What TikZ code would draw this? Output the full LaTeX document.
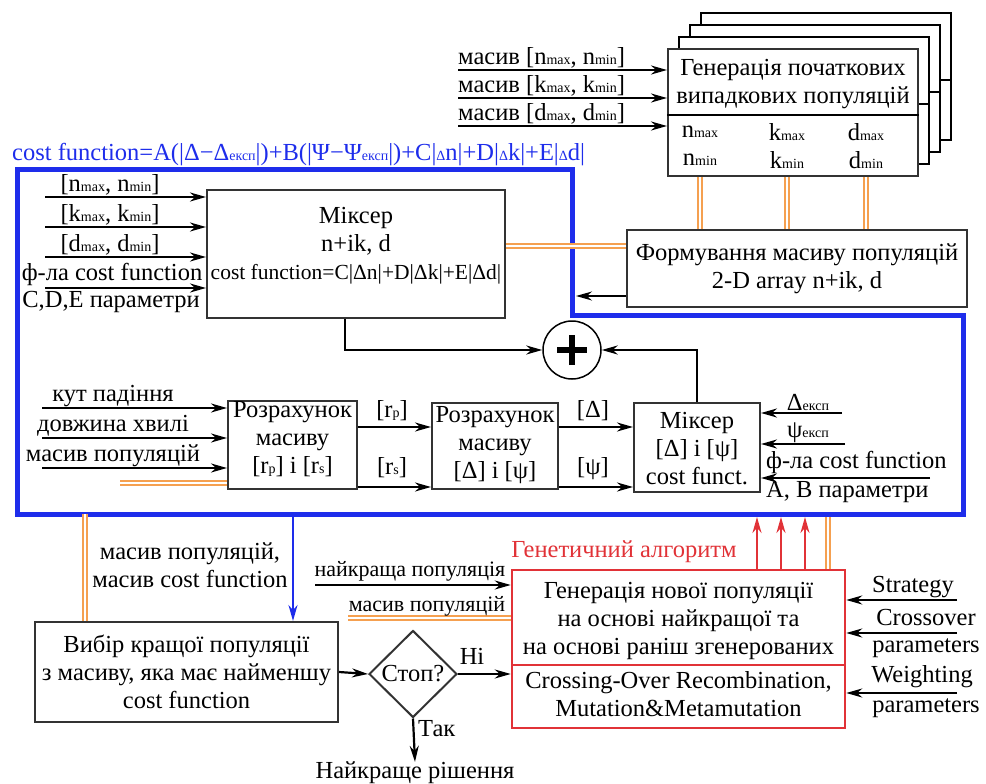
\documentclass[tikz,border=0pt]{standalone}
\usepackage{fontspec}
\setmainfont{Liberation Serif}
\usetikzlibrary{shapes.geometric,arrows.meta,positioning,calc}

\definecolor{frameblue}{RGB}{30,45,235}
\definecolor{gared}{RGB}{225,50,55}
\definecolor{popor}{RGB}{245,160,80}
\newcommand{\ix}[1]{{\fontsize{14}{14}\selectfont #1}}

\tikzset{
  box/.style={draw=black!80, line width=2pt, fill=white, align=center, inner sep=0pt},
  arr/.style={-{Stealth[length=16pt,width=9pt]}, line width=2.2pt},
  popline/.style={draw=popor, double=white, double distance=2.2pt, line width=1.8pt},
  lbl/.style={inner sep=0pt, align=center},
}

\begin{document}
\begin{tikzpicture}[x=1pt, y=-1pt, font=\fontsize{24.5}{28}\selectfont]
\useasboundingbox (0,0) rectangle (986,784);

% stack of initial population boxes
\foreach \i in {3,2,1} {
  \draw[line width=2pt, fill=white, shift={(11*\i,-12*\i)}] (668,49) rectangle (918,176);
  \draw[line width=2pt, shift={(11*\i,-12*\i)}] (668,116) -- (918,116);
}
\node[box, minimum width=250pt, minimum height=127pt] (gen) at (793,112.5) {};
\draw[line width=2pt] ([yshift=-67pt]gen.north west) -- ([yshift=-67pt]gen.north east);
\node[lbl] (gentxt) at (793,84) {Генерація початкових\\випадкових популяцій};
\node[lbl] (nrange) at (700,146) {n\ix{max}\\n\ix{min}};
\node[lbl] (krange) at (787,146) {k\ix{max}\\k\ix{min}};
\node[lbl] (drange) at (866,146) {d\ix{max}\\d\ix{min}};

\foreach \y/\t [count=\k] in {70/n, 98/k, 126/d} {
  \coordinate (gin\k) at (458,\y);
  \draw[arr] (gin\k) -- (gin\k -| gen.west);
  \node[lbl, anchor=south west] (ginlbl\k) at ([yshift=2pt]gin\k) {масив [\t\ix{max}, \t\ix{min}]};
}

% blue frame
\node[lbl, anchor=west, text=frameblue] (cfall) at (12,155)
  {cost function=A(|Δ−Δ\ix{експ}|)+B(|Ψ−Ψ\ix{експ}|)+C|\ix{Δ}n|+D|\ix{Δ}k|+E|\ix{Δ}d|};
\draw[frameblue, line width=5pt] (17,169) -- (572,169) -- (572,315) -- (963,315) -- (963,514) -- (17,514) -- cycle;

% forming the population array
\node[box, minimum width=340pt, minimum height=77pt] (form) at (797,268.5) {Формування масиву популяцій\\2-D array n+ik, d};
\foreach \x in {700,787,866}
  \draw[popline] (gen.south -| \x,0) -- (form.north -| \x,0);

% top mixer
\node[box, minimum width=298pt, minimum height=128pt] (mix) at (356,254) {};
\node[lbl] (mixtxt) at (356,246) {Міксер\\n+ik, d\\{\fontsize{21.5}{28}\selectfont cost function=C|Δn|+D|Δk|+E|Δd|}};
\draw[popline] (form.west |- 0,246) -- (mix.east |- 0,246);
\draw[arr, line width=1.6pt] ([yshift=12pt]form.south west) -- ++(-50,0);

\foreach \y [count=\k] in {197,227,257,288} {
  \coordinate (min\k) at (45,\y);
  \draw[arr] (min\k) -- (min\k -| mix.west);
}
\node[lbl] (mlbl1) at (110,185) {{}[n\ix{max}, n\ix{min}]};
\node[lbl] (mlbl2) at (110,215) {{}[k\ix{max}, k\ix{min}]};
\node[lbl] (mlbl3) at (110,245) {{}[d\ix{max}, d\ix{min}]};
\node[lbl] (mlbl4) at (112,274) {ф-ла cost function};
\node[lbl] (mlbl5) at (111,302) {C,D,E параметри};

% summator
\node[circle, draw, line width=1.5pt, minimum size=58pt] (sum) at (572,350) {};
\draw[line width=5.5pt] ([xshift=-15pt]sum.center) -- ([xshift=15pt]sum.center);
\draw[line width=5.5pt] ([yshift=-15pt]sum.center) -- ([yshift=15pt]sum.center);
\draw[arr] (mix.south -| 345,0) |- (sum.west);

% reflection calculations
\node[box, minimum width=129pt, minimum height=88pt] (rr) at (292.5,445) {};
\node[lbl] (rrtxt) at (292.5,439) {Розрахунок\\масиву\\{}[r\ix{p}] і [r\ix{s}]};
\node[box, minimum width=126pt, minimum height=86pt] (dp) at (495,446) {};
\node[lbl] (dptxt) at (495,445) {Розрахунок\\масиву\\{}[Δ] і [ψ]};
\node[box, minimum width=126pt, minimum height=89pt] (mx2) at (697,447.5) {};
\node[lbl] (mx2txt) at (697,449) {Міксер\\{}[Δ] і [ψ]\\cost funct.};
\draw[arr] (mx2.north) |- (sum.east);

\foreach \y/\t [count=\k] in {408/кут падіння, 438/довжина хвилі, 468/масив популяцій} {
  \coordinate (rin\k) at (42,\y);
  \draw[arr] (rin\k) -- (rin\k -| rr.west);
  \node[lbl] (rlbl\k) at (113,\y-12) {\t};
}
\coordinate (rorg) at (120,483);
\draw[popline] (rorg) -- (rorg -| rr.west);

\foreach \y in {427,487} {
  \draw[arr] (rr.east |- 0,\y) -- (dp.west |- 0,\y);
  \draw[arr] (dp.east |- 0,\y) -- (mx2.west |- 0,\y);
}
\node[lbl] (rplbl) at (392,411) {{}[r\ix{p}]};
\node[lbl] (rslbl) at (392,468) {{}[r\ix{s}]};
\node[lbl] (dlbl) at (593,411) {{}[Δ]};
\node[lbl] (plbl) at (593,469) {{}[ψ]};

\coordinate (din) at (842,413);
\coordinate (pin) at (845,444);
\coordinate (fin) at (930,478);
\draw[arr] (din) -- (din -| mx2.east);
\draw[arr] (pin) -- (pin -| mx2.east);
\draw[arr] (fin) -- (fin -| mx2.east);
\node[lbl] (dexp) at (808,402) {Δ\ix{експ}};
\node[lbl] (pexp) at (808,433) {ψ\ix{експ}};
\node[lbl, anchor=west] (flbl) at (766,462) {ф-ла cost function};
\node[lbl, anchor=west] (ablbl) at (766,492) {A, B параметри};

% selection and stop
\node[box, minimum width=303pt, minimum height=100pt] (sel) at (186.5,672) {Вибір кращої популяції\\з масиву, яка має найменшу\\cost function};
\coordinate (fb1) at (85,514);
\coordinate (fb2) at (293,514);
\draw[popline] (fb1) -- (fb1 |- sel.north);
\draw[arr, frameblue, line width=2pt] (fb2) -- (fb2 |- sel.north);
\node[lbl] (sellbl) at (190,565) {масив популяцій,\\масив cost function};

\node[diamond, draw=black!80, line width=2pt, minimum width=88pt, minimum height=87pt, inner sep=0pt] (stop) at (413,674) {Стоп?};
\draw[arr] (sel.east) -- (stop.west);
\node[lbl] (best) at (415,773) {Найкраще рішення};
\draw[arr] (stop.south) -- (best.north);
\node[lbl, anchor=west] (yes) at (418,729) {Так};

% genetic algorithm
\node[box, draw=gared, line width=2.5pt, minimum width=333pt, minimum height=158pt] (ga) at (678.5,649) {};
\draw[gared, line width=2.5pt] (ga.west |- 0,665) -- (ga.east |- 0,665);
\node[lbl] (gatop) at (678.5,621) {Генерація нової популяції\\на основі найкращої та\\на основі раніш згенерованих};
\node[lbl] (gabot) at (678.5,694) {Crossing-Over Recombination,\\Mutation\&Metamutation};
\node[lbl, text=gared] (galbl) at (624,552) {Генетичний алгоритм};
\draw[arr] (stop.east) -- (stop.east -| ga.west);
\node[lbl] (no) at (472,656) {Ні};

\coordinate (bin) at (315,585);
\coordinate (pop2) at (348,618);
\draw[arr] (bin) -- (bin -| ga.west);
\draw[popline] (pop2) -- (pop2 -| ga.west);
\node[lbl, font=\fontsize{22}{26}\selectfont] (binlbl) at (410,571) {найкраща популяція};
\node[lbl, font=\fontsize{22}{26}\selectfont] (pop2lbl) at (427,606) {масив популяцій};

\coordinate (fbot) at (0,517);
\foreach \x in {757,781,805}
  \draw[arr, gared] (ga.north -| \x,0) -- (fbot -| \x,0);
\draw[popline] (ga.north -| 828,0) -- (fbot -| 828,0);

\foreach \y in {600,633,693} {
  \coordinate (gin) at (957,\y);
  \draw[arr] (gin) -- (gin -| ga.east);
}
\node[lbl] (strat) at (913,587) {Strategy};
\node[lbl] (cross) at (926,618) {Crossover};
\node[lbl] (par1) at (926,648) {parameters};
\node[lbl] (weight) at (922,677) {Weighting};
\node[lbl] (par2) at (926,708) {parameters};
\end{tikzpicture}
\end{document}
